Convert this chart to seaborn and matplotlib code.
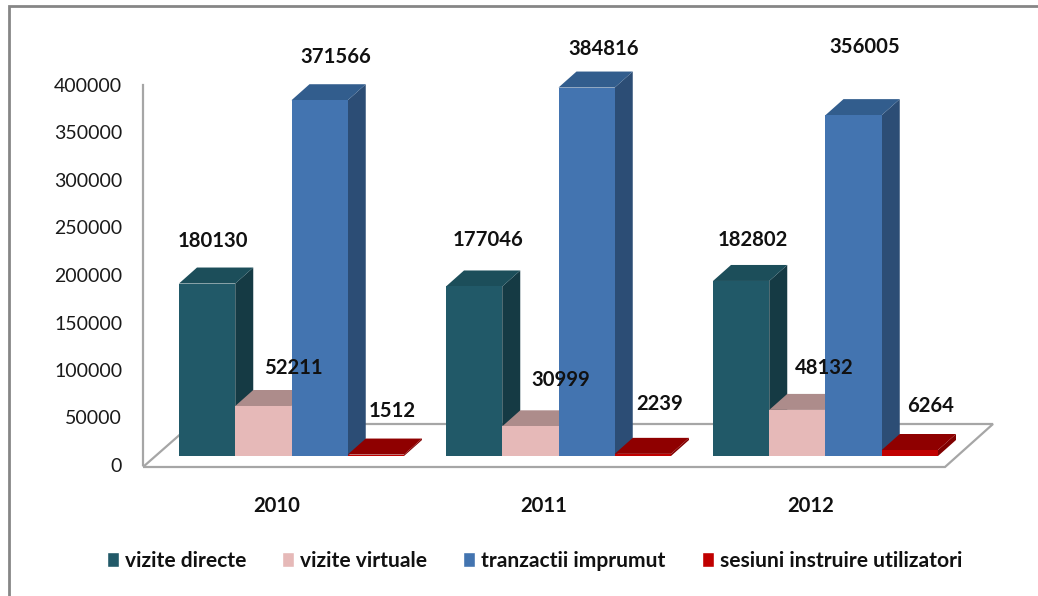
import matplotlib
matplotlib.use("Agg")
import matplotlib.pyplot as plt
from matplotlib.lines import Line2D
from matplotlib.patches import Polygon
import pandas as pd
import seaborn as sns

years = ["2010", "2011", "2012"]
series = ["vizite directe", "vizite virtuale", "tranzactii imprumut", "sesiuni instruire utilizatori"]
vizite_directe = [180130, 177046, 182802]
vizite_virtuale = [52211, 30999, 48132]
tranzactii_imprumut = [371566, 384816, 356005]
sesiuni_instruire = [1512, 2239, 6264]
y_ticks = [0, 50000, 100000, 150000, 200000, 250000, 300000, 350000, 400000]

front_colors = ["#215968", "#E6B9B8", "#4374B0", "#C00000"]
side_colors = ["#153A44", "#A98A89", "#2C4D75", "#800000"]
top_colors = ["#1C4E5A", "#AD8C8B", "#325D8D", "#8F0000"]
# label offsets in pixels from the front top-centre of each bar, by series then year
label_dx = [[6, 14, 12], [30, 30, 27], [16, 17, 11], [16, 17, 21]]
label_dy = [[43, 46, 41], [38, 46, 42], [43, 39, 68], [44, 50, 44]]

W, H = 1038, 596
sns.set_theme(style="white")
plt.rcParams["font.family"] = ["Lato", "DejaVu Sans"]

rows = []
for s, vals in zip(series, [vizite_directe, vizite_virtuale, tranzactii_imprumut, sesiuni_instruire]):
    for y, v in zip(years, vals):
        rows.append({"year": y, "series": s, "value": v})
df = pd.DataFrame(rows)

fig = plt.figure(figsize=(W / 100, H / 100), dpi=100, facecolor="white")


def rect(x0, y_top, x1, y_bot):
    return [x0 / W, 1 - y_bot / H, (x1 - x0) / W, (y_bot - y_top) / H]


def fig_line(xs, ys, color="#A6A6A6", lw=1.6, z=-1):
    fig.add_artist(Line2D([x / W for x in xs], [1 - y / H for y in ys], color=color, lw=lw,
                          transform=fig.transFigure, zorder=z, solid_capstyle="butt",
                          solid_joinstyle="miter"))


# outer frame: only top and left edges are visible
fig_line([8.5, 8.5, 1038], [596, 6, 6], color="#868686", lw=2.0)
# floor outline
fig_line([143, 945, 993, 192], [467, 467, 424, 424])
fig_line([143, 192], [467, 424])

# axes carrying the wall and the tick labels
wall = fig.add_axes(rect(143, 85, 945, 465), facecolor="none")
wall.set_ylim(0, 400000)
wall.set_yticks(y_ticks)
wall.set_yticklabels([str(t) for t in y_ticks], fontsize=14, color="#1a1a1a")
wall.set_xlim((143 - 277) / 267, (945 - 277) / 267)
wall.set_xticks(range(len(years)))
wall.set_xticklabels(years, fontsize=14.6, fontweight="bold", color="#111111")
wall.tick_params(axis="y", length=0, pad=15)
wall.tick_params(axis="x", length=0, pad=22)
for side in ["top", "right", "bottom"]:
    wall.spines[side].set_visible(False)
wall.spines["left"].set_color("#A6A6A6")
wall.spines["left"].set_linewidth(1.6)
wall.set_xlabel("")
wall.set_ylabel("")

# axes carrying the bars: the front plane of the 3D chart
left_px, right_px = 291.5 - 0.5 * 267, 825.5 + 0.5 * 267
ax = fig.add_axes(rect(left_px, 73, right_px, 456), facecolor="none")
sns.barplot(data=df, x="year", y="value", hue="series", hue_order=series, palette=front_colors,
            saturation=1, width=225 / 267, ax=ax, errorbar=None, legend=True)
ax.set_xlim(-0.5, 2.5)
ax.set_ylim(0, 400000)
ax.set_axis_off()

DX = 18 / 267
DY = 16 * 400000 / 383
PXY = 400000 / 383

z = 2
for k, cont in enumerate(ax.containers):
    for j, bar in enumerate(cont):
        x0, x1 = bar.get_x(), bar.get_x() + bar.get_width()
        h = bar.get_height()
        side = Polygon([(x1, 0), (x1 + DX, DY), (x1 + DX, h + DY), (x1, h)], closed=True,
                       facecolor=side_colors[k], edgecolor="none", zorder=z, clip_on=False)
        top = Polygon([(x0, h), (x0 + DX, h + DY), (x1 + DX, h + DY), (x1, h)], closed=True,
                      facecolor=top_colors[k], edgecolor="none", zorder=z + 1, clip_on=False)
        ax.add_patch(side)
        ax.add_patch(top)
        bar.set_zorder(z + 2)
        bar.set_linewidth(0)
        ax.text((x0 + x1) / 2 + label_dx[k][j] / 267, h + label_dy[k][j] * PXY, str(int(h)),
                ha="center", va="center", fontsize=14.6, fontweight="bold", color="#111111", zorder=50)
        z += 3

# legend
handles, labels = ax.get_legend_handles_labels()
ax.legend_.remove()
fig.legend(handles, labels, ncol=4, frameon=False, loc="center left",
           bbox_to_anchor=(107 / W, 1 - 561 / H), borderaxespad=0, borderpad=0,
           prop={"weight": "bold", "size": 15.1}, labelcolor="#111111",
           handlelength=0.575, handleheight=0.7, handletextpad=0.28, columnspacing=1.72)

fig.savefig("out.png", dpi=100)
